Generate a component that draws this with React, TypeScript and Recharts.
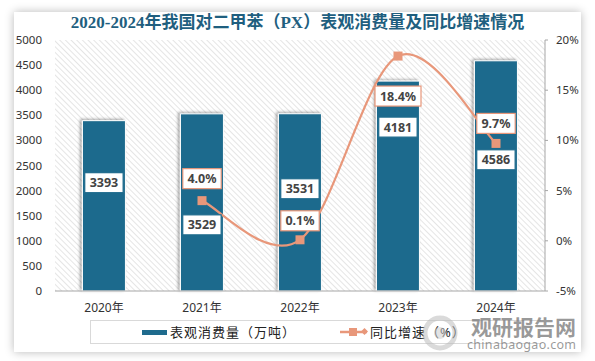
import { ComposedChart, Bar, Line, XAxis, YAxis, CartesianGrid, LabelList } from 'recharts';

const years = ['2020年', '2021年', '2022年', '2023年', '2024年'];
const consumption = [3393, 3529, 3531, 4181, 4586];
const growth: (number | null)[] = [null, 4.0, 0.1, 18.4, 9.7];
const leftTicks = [0, 500, 1000, 1500, 2000, 2500, 3000, 3500, 4000, 4500, 5000];
const rightTicks = [-5, 0, 5, 10, 15, 20];

// label nudges (px) so the boxes don't collide, like the original
const BAR_LABEL_DY = [62, 111, 75, 46, 99];
const LINE_LABEL_DY = [0, -22, -19, 40, -20];

const BAR_COLOR = '#1f6b8d';
const LINE_COLOR = '#e8977a';
const FONT = '"Noto Sans", "Noto Sans CJK SC", sans-serif';

const data = years.map((y, i) => ({ year: y, v: consumption[i], g: growth[i] }));

// Excel-style smoothed line (Catmull-Rom as cubic beziers)
const excelSmooth = (ctx: any) => {
  let pts: number[][] = [];
  return {
    areaStart() {},
    areaEnd() {},
    lineStart() { pts = []; },
    point(x: number, y: number) { pts.push([+x, +y]); },
    lineEnd() {
      if (!pts.length) return;
      ctx.moveTo(pts[0][0], pts[0][1]);
      for (let i = 0; i < pts.length - 1; i++) {
        const p0 = pts[i - 1] || pts[i];
        const p1 = pts[i];
        const p2 = pts[i + 1];
        const p3 = pts[i + 2] || p2;
        ctx.bezierCurveTo(
          p1[0] + (p2[0] - p0[0]) / 6, p1[1] + (p2[1] - p0[1]) / 6,
          p2[0] - (p3[0] - p1[0]) / 6, p2[1] - (p3[1] - p1[1]) / 6,
          p2[0], p2[1],
        );
      }
    },
  };
};

function BoxLabel(props: any, dyList: number[], border: string, fmt: (v: number) => string, isBar: boolean) {
  const { x, y, width, value, index } = props;
  if (value == null) return null;
  const cx = isBar ? x + width / 2 : x;
  const cy = y + dyList[index];
  const text = fmt(value);
  const w = text.length * 7.6 + 8;
  return (
    <g>
      <rect x={cx - w / 2} y={cy - 10} width={w} height={20} fill="#fff" stroke={border} strokeWidth={1.2} />
      <text x={cx} y={cy + 4.5} textAnchor="middle" fontSize={12.5} fontWeight="bold" fill="#444" fontFamily={FONT}>{text}</text>
    </g>
  );
}

const SquareDot = (props: any) => {
  const { cx, cy, value } = props;
  if (value == null || cx == null) return null;
  return <rect x={cx - 4.5} y={cy - 4.5} width={9} height={9} fill={LINE_COLOR} />;
};

export default function App() {
  return (
    <div style={{ position: 'absolute', left: 0, top: 0, width: 595, height: 361, background: '#fff', fontFamily: FONT }}>
      <div style={{ position: 'absolute', left: 14, top: 12, width: 567, height: 340, background: '#fff', boxShadow: '0 0 9px rgba(0,0,0,0.28)' }}>
        <div style={{ position: 'absolute', left: 0, top: 0, width: 567, textAlign: 'center', fontSize: 17, fontWeight: 'bold', color: '#1f5f7f', fontFamily: '"Liberation Serif", "Noto Sans CJK SC", serif', lineHeight: '22px' }}>
          2020-2024年我国对二甲苯（PX）表观消费量及同比增速情况
        </div>
        <ComposedChart width={567} height={340} data={data} margin={{ top: 28, right: 0, bottom: 31, left: 0 }} barCategoryGap="28%">
          <defs>
            <pattern id="hatch" patternUnits="userSpaceOnUse" width={4} height={4} patternTransform="rotate(-45)">
              <rect width={4} height={4} fill="#fff" />
              <line x1={0} y1={0} x2={0} y2={4} stroke="#d4d4d4" strokeWidth={1.2} />
            </pattern>
            <filter id="barShadow" x="-20%" y="-10%" width="140%" height="120%">
              <feDropShadow dx={-2} dy={-1} stdDeviation={1.6} floodColor="#000" floodOpacity={0.35} />
            </filter>
          </defs>
          <CartesianGrid horizontal={false} vertical={false} fill="url(#hatch)" />
          <XAxis dataKey="year" tickLine={false} axisLine={{ stroke: '#a6a6a6' }} height={30} tick={{ fill: '#333', fontSize: 12 }} tickMargin={6} />
          <YAxis yAxisId="left" domain={[0, 5000]} ticks={leftTicks} width={41} tickLine={false} axisLine={false} tick={{ fill: '#333', fontSize: 11.5 }} tickMargin={7} />
          <YAxis yAxisId="right" orientation="right" domain={[-5, 20]} ticks={rightTicks} width={36} tickFormatter={(v: number) => `${v}%`} tickSize={3} tickLine={{ stroke: '#a6a6a6' }} axisLine={{ stroke: '#a6a6a6' }} tick={{ fill: '#333', fontSize: 11.5 }} tickMargin={8} />
          <Bar yAxisId="left" dataKey="v" fill={BAR_COLOR} stroke="#fff" strokeWidth={1} filter="url(#barShadow)" isAnimationActive={false}>
            <LabelList dataKey="v" content={(p: any) => BoxLabel(p, BAR_LABEL_DY, BAR_COLOR, (v) => String(v), true)} />
          </Bar>
          <Line yAxisId="right" dataKey="g" type={excelSmooth as any} stroke={LINE_COLOR} strokeWidth={2.2} dot={<SquareDot />} activeDot={false} connectNulls isAnimationActive={false}>
            <LabelList dataKey="g" content={(p: any) => BoxLabel(p, LINE_LABEL_DY, LINE_COLOR, (v) => `${v.toFixed(1)}%`, false)} />
          </Line>
        </ComposedChart>
        {/* legend */}
        <div style={{ position: 'absolute', left: 76, top: 308, width: 450, height: 22, borderTop: '1px solid #d9d9d9', borderBottom: '1px solid #d9d9d9', borderLeft: '1px solid #d9d9d9' }} />
        <div style={{ position: 'absolute', left: 128, top: 318, width: 25, height: 5, background: BAR_COLOR }} />
        <div style={{ position: 'absolute', left: 156, top: 311, fontSize: 13, color: '#222', letterSpacing: 1, lineHeight: '18px', whiteSpace: 'nowrap' }}>表观消费量（万吨）</div>
        <svg style={{ position: 'absolute', left: 326, top: 313 }} width={28} height={14}>
          <line x1={0} y1={7} x2={27} y2={7} stroke={LINE_COLOR} strokeWidth={2.5} />
          <rect x={9} y={3} width={8} height={8} fill={LINE_COLOR} />
          <rect x={22} y={4} width={5} height={5} fill={LINE_COLOR} transform="rotate(45 24.5 6.5)" />
        </svg>
        <div style={{ position: 'absolute', left: 356, top: 311, fontSize: 13, color: '#222', letterSpacing: 1, lineHeight: '18px', whiteSpace: 'nowrap' }}>同比增速（%）</div>
        {/* watermark */}
        <svg style={{ position: 'absolute', left: 404, top: 301 }} width={44} height={40}>
          <circle cx={22} cy={20} r={15} fill="none" stroke="#bbb" strokeWidth={5} opacity={0.55} />
          <circle cx={22} cy={20} r={6} fill="#ccc" opacity={0.55} />
        </svg>
        <div style={{ position: 'absolute', left: 457, top: 304, fontSize: 21, fontWeight: 'bold', color: 'rgba(120,120,120,0.75)', lineHeight: '21px', whiteSpace: 'nowrap', fontFamily: '"Noto Sans CJK SC", sans-serif' }}>观研报告网</div>
        <div style={{ position: 'absolute', left: 453, top: 326, fontSize: 12.5, color: 'rgba(120,120,120,0.75)', lineHeight: '14px', letterSpacing: 0.3, whiteSpace: 'nowrap' }}>chinabaogao.com</div>
      </div>
    </div>
  );
}
